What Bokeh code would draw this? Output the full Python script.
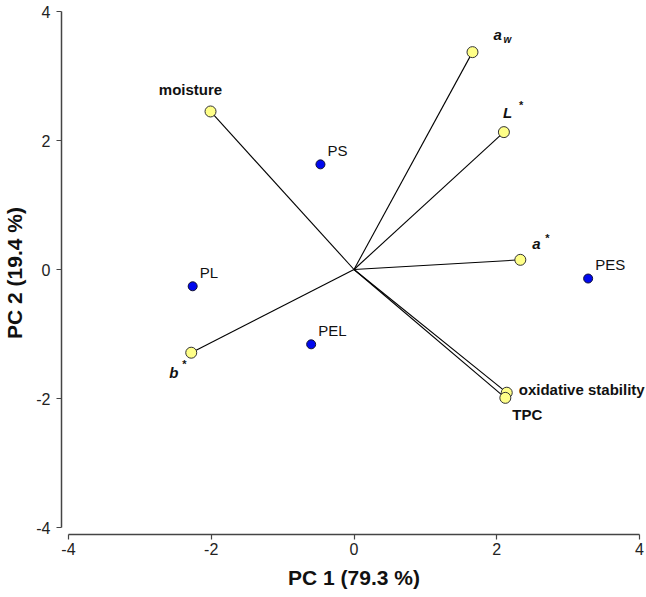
from bokeh.plotting import figure
from bokeh.models import Range1d, FixedTicker
from bokeh.core.properties import value
from bokeh.embed import file_html
from bokeh.resources import INLINE

# ---- data ----
var_names = ["moisture", "a_w", "L*", "a*", "b*", "oxidative stability", "TPC"]
var_pc1 = [-2.01, 1.66, 2.10, 2.33, -2.28, 2.14, 2.12]
var_pc2 = [2.45, 3.37, 2.13, 0.15, -1.29, -1.91, -1.99]

sample_names = ["PS", "PL", "PEL", "PES"]
sample_pc1 = [-0.47, -2.26, -0.60, 3.28]
sample_pc2 = [1.63, -0.26, -1.16, -0.14]

tick_values = [-4, -2, 0, 2, 4]
tick_labels = ["-4", "-2", "0", "2", "4"]
x_title = "PC 1 (79.3 %)"
y_title = "PC 2 (19.4 %)"

FONT = "Liberation Sans"

p = figure(width=646, height=597, output_backend="svg", toolbar_location=None,
           x_range=Range1d(-4.0976, 4.0976), y_range=Range1d(-4.1085, 4.0),
           min_border_left=58, min_border_right=0, min_border_top=11, min_border_bottom=63)
p.outline_line_color = None
p.grid.visible = False
p.background_fill_color = "white"
p.border_fill_color = "white"

for ax in (p.xaxis[0], p.yaxis[0]):
    ax.bounds = (-4, 4)
    ax.ticker = FixedTicker(ticks=tick_values)
    ax.major_label_overrides = dict(zip(tick_values, tick_labels))
    ax.minor_tick_line_color = None
    ax.major_tick_in = 0
    ax.major_tick_out = 5
    ax.axis_line_color = "#444444"
    ax.axis_line_width = 1.5
    ax.major_tick_line_color = "#444444"
    ax.major_tick_line_width = 1.2
    ax.major_label_text_font = FONT
    ax.major_label_text_font_size = "16px"
    ax.major_label_text_color = "#222222"
    ax.axis_label_text_font = FONT
    ax.axis_label_text_font_size = "21px"
    ax.axis_label_text_font_style = "bold"
    ax.axis_label_text_color = "#111111"

p.xaxis[0].major_label_standoff = 3
p.yaxis[0].major_label_standoff = 6
p.xaxis[0].axis_label = x_title
p.yaxis[0].axis_label = y_title
p.xaxis[0].axis_label_standoff = 8
p.yaxis[0].axis_label_standoff = 7

# loading vectors
n = len(var_names)
p.segment(x0=[0] * n, y0=[0] * n, x1=var_pc1, y1=var_pc2, line_color="black", line_width=1.1)

# variable markers
p.scatter(var_pc1, var_pc2, size=11, fill_color="#ffff88", line_color="#333333", line_width=1)

# sample markers
p.scatter(sample_pc1, sample_pc2, size=9, fill_color="#0008ee", line_color="#111133", line_width=1)

# sample labels
for name, xx, yy in zip(sample_names, sample_pc1, sample_pc2):
    p.text([xx], [yy], text=[name], x_offset=7, y_offset=-14,
           text_font=value(FONT), text_font_size="15px", text_color="#111111",
           text_align="left", text_baseline="middle")

vx = dict(zip(var_names, var_pc1))
vy = dict(zip(var_names, var_pc2))

def lab(name, txt, dx, dy, size="15px", style="bold", align="left"):
    p.text([vx[name]], [vy[name]], text=[txt], x_offset=dx, y_offset=dy,
           text_font=value(FONT), text_font_size=size, text_font_style=style,
           text_color="#111111", text_align=align, text_baseline="middle")

lab("moisture", "moisture", -20, -22, align="center")
lab("a_w", "a", 21, -18, style="bold italic")
lab("a_w", "w", 31, -13, size="10px", style="bold italic")
lab("L*", "L", -1, -20, style="bold italic")
lab("L*", "*", 15, -27, size="11px", style="bold")
lab("a*", "a", 12, -16, style="bold italic")
lab("a*", "*", 25, -22, size="11px", style="bold")
lab("b*", "b", -22, 20, style="bold italic")
lab("b*", "*", -9, 11, size="11px", style="bold")
lab("oxidative stability", "oxidative stability", 12, -3)
lab("TPC", "TPC", 7, 17)

open("out.html", "w").write(file_html(p, INLINE))
